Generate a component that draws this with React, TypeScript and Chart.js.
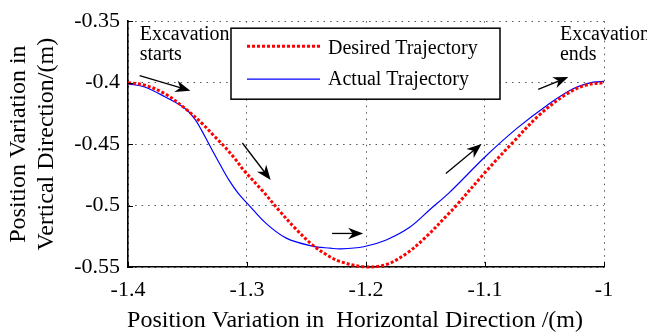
import React, { useEffect, useRef } from 'react';
import { Chart, registerables } from 'chart.js';

Chart.register(...registerables);

// ---- data ----
const seriesNames = ['Desired Trajectory', 'Actual Trajectory'];

const desiredX = [-1.4, -1.386, -1.369, -1.352, -1.338, -1.327, -1.319, -1.31, -1.303, -1.287, -1.273, -1.259, -1.245, -1.232, -1.222, -1.2, -1.183, -1.166, -1.149, -1.131, -1.125, -1.099, -1.076, -1.054, -1.031, -1.015, -1.0];
const desiredY = [-0.4, -0.402, -0.409, -0.421, -0.433, -0.444, -0.452, -0.462, -0.471, -0.488, -0.504, -0.519, -0.532, -0.5407, -0.5455, -0.55, -0.548, -0.539, -0.525, -0.507, -0.501, -0.472, -0.448, -0.426, -0.409, -0.402, -0.4];

const actualX = [-1.4, -1.386, -1.369, -1.352, -1.344, -1.338, -1.332, -1.323, -1.315, -1.307, -1.299, -1.284, -1.267, -1.245, -1.23, -1.222, -1.202, -1.183, -1.163, -1.146, -1.13, -1.099, -1.073, -1.048, -1.026, -1.009, -1.0];
const actualY = [-0.401, -0.4035, -0.4115, -0.421, -0.4295, -0.439, -0.45, -0.466, -0.4795, -0.4905, -0.499, -0.5145, -0.5265, -0.533, -0.5347, -0.5353, -0.5335, -0.528, -0.5175, -0.503, -0.4895, -0.4595, -0.437, -0.4185, -0.405, -0.3996, -0.399];

const xTickValues = [-1.4, -1.3, -1.2, -1.1, -1.0];
const xTickLabels = ['-1.4', '-1.3', '-1.2', '-1.1', '-1'];
const yTickValues = [-0.55, -0.5, -0.45, -0.4, -0.35];
const yTickLabels = ['-0.55', '-0.5', '-0.45', '-0.4', '-0.35'];

const xTitle = 'Position Variation in  Horizontal Direction /(m)';
const yTitleLines = ['Position Variation in', 'Vertical Direction/(m)'];

// arrows in data units: tail -> tip
const arrowTailX = [-1.3902, -1.3039, -1.2285, -1.1329, -1.0553];
const arrowTailY = [-0.3942, -0.4491, -0.5227, -0.474, -0.4054];
const arrowTipX = [-1.3476, -1.2801, -1.2024, -1.1029, -1.03];
const arrowTipY = [-0.4065, -0.4793, -0.5227, -0.4499, -0.3955];

// annotations (left x, baseline y of each line)
const annoTexts = [['Excavation', 'starts'], ['Excavation', 'ends']];
const annoX = [-1.3902, -1.037];
const annoLineY = [-0.3653, -0.3819];

const FONT = '"Liberation Serif", "Times New Roman", Times, serif';

function drawArrow(ctx: CanvasRenderingContext2D, x1: number, y1: number, x2: number, y2: number) {
  const ang = Math.atan2(y2 - y1, x2 - x1);
  const len = Math.hypot(x2 - x1, y2 - y1);
  ctx.save();
  ctx.translate(x1, y1);
  ctx.rotate(ang);
  ctx.strokeStyle = '#000';
  ctx.fillStyle = '#000';
  ctx.lineWidth = 1.3;
  ctx.beginPath();
  ctx.moveTo(0, 0);
  ctx.lineTo(len - 8, 0);
  ctx.stroke();
  ctx.beginPath();
  ctx.moveTo(len, 0);
  ctx.lineTo(len - 15, -5.8);
  ctx.lineTo(len - 10.5, 0);
  ctx.lineTo(len - 15, 5.8);
  ctx.closePath();
  ctx.fill();
  ctx.restore();
}

const overlay = {
  id: 'overlay',
  afterDraw(chart: any) {
    const { ctx, chartArea: ca, scales } = chart;
    const xs = scales.x;
    const ys = scales.y;
    ctx.save();
    // inward tick marks
    ctx.strokeStyle = '#000';
    ctx.lineWidth = 1;
    yTickValues.forEach((v) => {
      const py = Math.round(ys.getPixelForValue(v)) + 0.5;
      ctx.beginPath();
      ctx.moveTo(ca.left, py);
      ctx.lineTo(ca.left + 5, py);
      ctx.stroke();
    });
    xTickValues.forEach((v) => {
      const px = Math.round(xs.getPixelForValue(v)) + 0.5;
      ctx.beginPath();
      ctx.moveTo(px, ca.bottom);
      ctx.lineTo(px, ca.bottom - 5);
      ctx.stroke();
    });

    // arrows
    for (let i = 0; i < arrowTailX.length; i++) {
      drawArrow(
        ctx,
        xs.getPixelForValue(arrowTailX[i]),
        ys.getPixelForValue(arrowTailY[i]),
        xs.getPixelForValue(arrowTipX[i]),
        ys.getPixelForValue(arrowTipY[i])
      );
    }

    // annotations
    ctx.fillStyle = '#000';
    ctx.font = `20px ${FONT}`;
    ctx.textAlign = 'left';
    ctx.textBaseline = 'alphabetic';
    annoTexts.forEach((lines, i) => {
      lines.forEach((t, j) => {
        ctx.fillText(t, xs.getPixelForValue(annoX[i]), ys.getPixelForValue(annoLineY[j]));
      });
    });

    // legend box
    const lx = ca.left + 103;
    const ly = ca.top + 7;
    const lw = 269;
    const lh = 71;
    ctx.fillStyle = '#fff';
    ctx.fillRect(lx, ly, lw, lh);
    ctx.strokeStyle = '#000';
    ctx.lineWidth = 1.5;
    ctx.strokeRect(lx, ly, lw, lh);
    // sample lines
    ctx.save();
    ctx.strokeStyle = '#ff0000';
    ctx.lineWidth = 3;
    ctx.setLineDash([3, 2]);
    ctx.beginPath();
    ctx.moveTo(lx + 16, ly + 18);
    ctx.lineTo(lx + 89, ly + 18);
    ctx.stroke();
    ctx.restore();
    ctx.strokeStyle = '#0000ff';
    ctx.lineWidth = 1.2;
    ctx.beginPath();
    ctx.moveTo(lx + 16, ly + 51);
    ctx.lineTo(lx + 89, ly + 51);
    ctx.stroke();
    ctx.fillStyle = '#000';
    ctx.font = `20px ${FONT}`;
    ctx.fillText(seriesNames[0], lx + 97, ly + 26);
    ctx.fillText(seriesNames[1], lx + 97, ly + 57);

    // axis titles
    ctx.font = `24px ${FONT}`;
    ctx.textAlign = 'center';
    ctx.textBaseline = 'alphabetic';
    ctx.fillText(xTitle, (ca.left + ca.right) / 2 - 11, 327);
    const yc = (ca.top + ca.bottom) / 2;
    yTitleLines.forEach((t, i) => {
      ctx.save();
      ctx.translate(25 + i * 28, yc);
      ctx.rotate(-Math.PI / 2);
      ctx.fillText(t, 0, 0);
      ctx.restore();
    });
    ctx.restore();
  },
};

export default function App() {
  const ref = useRef<HTMLCanvasElement | null>(null);
  useEffect(() => {
    if (!ref.current) return;
    const tickFont = { family: FONT, size: 22 };
    const chart = new Chart(ref.current, {
      type: 'scatter',
      data: {
        datasets: [
          {
            label: seriesNames[0],
            data: desiredX.map((x, i) => ({ x, y: desiredY[i] })),
            showLine: true,
            borderColor: '#ff0000',
            borderWidth: 3,
            borderDash: [3, 2],
            pointRadius: 0,
            tension: 0.35,
            clip: 6,
          },
          {
            label: seriesNames[1],
            data: actualX.map((x, i) => ({ x, y: actualY[i] })),
            showLine: true,
            borderColor: '#0000ff',
            borderWidth: 1.2,
            pointRadius: 0,
            tension: 0.35,
            clip: 6,
          },
        ],
      },
      options: {
        responsive: false,
        animation: false,
        devicePixelRatio: 1,
        layout: { padding: { left: 0, right: 43, top: 18, bottom: 0 } },
        plugins: { legend: { display: false }, tooltip: { enabled: false } },
        scales: {
          x: {
            type: 'linear',
            min: -1.4,
            max: -1.0,
            afterFit: (s: any) => {
              s.height = 66;
            },
            afterBuildTicks: (s: any) => {
              s.ticks = xTickValues.map((v) => ({ value: v }));
            },
            ticks: {
              callback: (_v: any, i: number) => xTickLabels[i],
              font: tickFont,
              color: '#000',
              padding: 10,
              maxRotation: 0,
              autoSkip: false,
            },
            grid: { color: '#555', lineWidth: 1, drawTicks: false },
            border: { color: '#000', width: 1.6, dash: [1.5, 5] },
          },
          y: {
            type: 'linear',
            min: -0.55,
            max: -0.35,
            afterFit: (s: any) => {
              s.width = 128;
            },
            afterBuildTicks: (s: any) => {
              s.ticks = yTickValues.map((v) => ({ value: v }));
            },
            ticks: {
              callback: (_v: any, i: number) => yTickLabels[i],
              font: tickFont,
              color: '#000',
              padding: 8,
              autoSkip: false,
            },
            grid: { color: '#555', lineWidth: 1, drawTicks: false },
            border: { color: '#000', width: 1.6, dash: [1.5, 5] },
          },
        },
      },
      plugins: [overlay],
    } as any);
    return () => chart.destroy();
  }, []);
  return (
    <div style={{ position: 'fixed', left: 0, top: 0, width: 647, height: 333, background: '#fff' }}>
      <canvas ref={ref} width={647} height={333} style={{ display: 'block' }} />
    </div>
  );
}
